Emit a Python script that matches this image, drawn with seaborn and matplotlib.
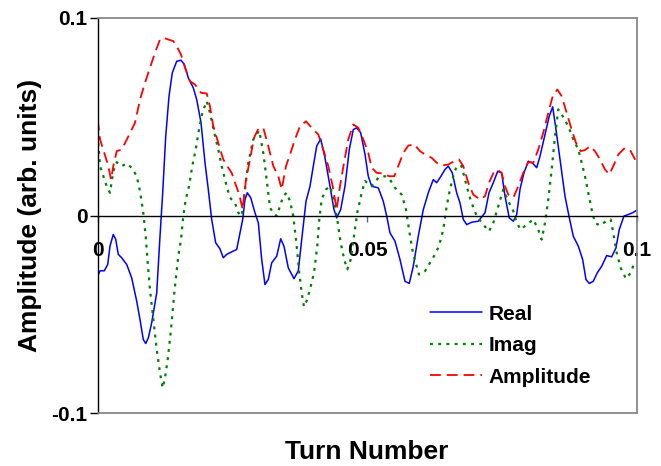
import matplotlib
matplotlib.use("Agg")
import matplotlib.pyplot as plt
import numpy as np
import pandas as pd
import seaborn as sns

# ---------------- data ----------------
real_t = [0.00000, 0.00043, 0.00122, 0.00186, 0.00228, 0.00289, 0.00334, 0.00382, 0.00445, 0.00538,
          0.00631, 0.00724, 0.00785, 0.00846, 0.00891, 0.00939, 0.01002, 0.01095, 0.01156, 0.01206,
          0.01262, 0.01323, 0.01384, 0.01466, 0.01545, 0.01607, 0.01681, 0.01774, 0.01837, 0.01917,
          0.01991, 0.02052, 0.02115, 0.02189, 0.02269, 0.02330, 0.02393, 0.02486, 0.02579, 0.02640,
          0.02690, 0.02733, 0.02776, 0.02839, 0.02918, 0.02980, 0.03043, 0.03104, 0.03165, 0.03228,
          0.03321, 0.03395, 0.03456, 0.03536, 0.03642, 0.03722, 0.03785, 0.03865, 0.03939, 0.04000,
          0.04063, 0.04137, 0.04217, 0.04310, 0.04384, 0.04434, 0.04508, 0.04588, 0.04668, 0.04742,
          0.04805, 0.04879, 0.04959, 0.05020, 0.05083, 0.05206, 0.05299, 0.05362, 0.05423, 0.05516,
          0.05609, 0.05701, 0.05781, 0.05855, 0.05948, 0.06041, 0.06134, 0.06226, 0.06289, 0.06369,
          0.06443, 0.06505, 0.06579, 0.06660, 0.06722, 0.06783, 0.06846, 0.06939, 0.07061, 0.07186,
          0.07260, 0.07340, 0.07421, 0.07495, 0.07557, 0.07636, 0.07711, 0.07774, 0.07835, 0.07909,
          0.07989, 0.08063, 0.08145, 0.08206, 0.08299, 0.08378, 0.08442, 0.08503, 0.08577, 0.08670,
          0.08744, 0.08824, 0.08917, 0.08998, 0.09059, 0.09121, 0.09195, 0.09269, 0.09351, 0.09443,
          0.09536, 0.09616, 0.09677, 0.09764, 0.09844, 0.09926, 0.10000]
real_v = [-0.0307, -0.0280, -0.0280, -0.0248, -0.0155, -0.0096, -0.0120, -0.0197, -0.0214, -0.0248,
          -0.0316, -0.0434, -0.0527, -0.0628, -0.0648, -0.0620, -0.0543, -0.0392, -0.0105, 0.0115,
          0.0400, 0.0604, 0.0722, 0.0781, 0.0786, 0.0765, 0.0697, 0.0646, 0.0587, 0.0469,
          0.0267, 0.0132, -0.0020, -0.0138, -0.0169, -0.0214, -0.0197, -0.0184, -0.0172, -0.0088,
          -0.0020, 0.0081, 0.0115, 0.0090, 0.0014, -0.0037, -0.0223, -0.0350, -0.0324, -0.0240,
          -0.0206, -0.0118, -0.0155, -0.0265, -0.0320, -0.0280, -0.0122, 0.0072, 0.0148, 0.0250,
          0.0351, 0.0388, 0.0292, 0.0148, 0.0030, -0.0012, 0.0030, 0.0148, 0.0334, 0.0435,
          0.0444, 0.0419, 0.0310, 0.0199, 0.0148, 0.0140, 0.0072, -0.0003, -0.0088, -0.0130,
          -0.0223, -0.0333, -0.0344, -0.0257, -0.0105, 0.0030, 0.0115, 0.0182, 0.0166, 0.0199,
          0.0233, 0.0250, 0.0216, 0.0115, 0.0064, -0.0020, -0.0046, -0.0034, -0.0029, 0.0014,
          0.0115, 0.0166, 0.0224, 0.0216, 0.0098, -0.0012, -0.0029, 0.0005, 0.0132, 0.0216,
          0.0275, 0.0267, 0.0242, 0.0300, 0.0410, 0.0503, 0.0550, 0.0435, 0.0284, 0.0098,
          -0.0003, -0.0105, -0.0155, -0.0223, -0.0324, -0.0344, -0.0333, -0.0290, -0.0257, -0.0203,
          -0.0209, -0.0164, -0.0071, -0.0003, 0.0005, 0.0014, 0.0027]

imag_t = [0.00011, 0.00043, 0.00104, 0.00167, 0.00228, 0.00289, 0.00353, 0.00445, 0.00538, 0.00631,
          0.00724, 0.00785, 0.00846, 0.00891, 0.00928, 0.00970, 0.01032, 0.01095, 0.01156, 0.01206,
          0.01249, 0.01299, 0.01360, 0.01421, 0.01495, 0.01545, 0.01588, 0.01633, 0.01694, 0.01755,
          0.01818, 0.01879, 0.01941, 0.02022, 0.02083, 0.02163, 0.02237, 0.02301, 0.02393, 0.02455,
          0.02547, 0.02609, 0.02672, 0.02733, 0.02794, 0.02887, 0.02998, 0.03072, 0.03135, 0.03197,
          0.03258, 0.03321, 0.03382, 0.03443, 0.03506, 0.03568, 0.03629, 0.03692, 0.03740, 0.03785,
          0.03827, 0.03889, 0.03952, 0.04013, 0.04074, 0.04111, 0.04156, 0.04236, 0.04310, 0.04371,
          0.04445, 0.04508, 0.04575, 0.04631, 0.04694, 0.04755, 0.04816, 0.04898, 0.04959, 0.05083,
          0.05206, 0.05330, 0.05423, 0.05516, 0.05640, 0.05714, 0.05776, 0.05837, 0.05900, 0.05961,
          0.06072, 0.06165, 0.06258, 0.06332, 0.06412, 0.06475, 0.06536, 0.06597, 0.06660, 0.06753,
          0.06846, 0.06926, 0.07032, 0.07154, 0.07260, 0.07340, 0.07432, 0.07525, 0.07618, 0.07711,
          0.07774, 0.07848, 0.07959, 0.08082, 0.08174, 0.08237, 0.08299, 0.08360, 0.08423, 0.08484,
          0.08546, 0.08627, 0.08731, 0.08824, 0.08917, 0.08980, 0.09041, 0.09102, 0.09165, 0.09226,
          0.09319, 0.09430, 0.09518, 0.09566, 0.09629, 0.09703, 0.09801, 0.09889, 0.09968]
imag_v = [0.0368, 0.0250, 0.0199, 0.0148, 0.0115, 0.0224, 0.0270, 0.0250, 0.0263, 0.0242,
          0.0199, 0.0123, 0.0014, -0.0105, -0.0240, -0.0375, -0.0527, -0.0678, -0.0797, -0.0873,
          -0.0822, -0.0729, -0.0577, -0.0392, -0.0206, -0.0122, -0.0003, 0.0081, 0.0148, 0.0250,
          0.0334, 0.0435, 0.0520, 0.0579, 0.0520, 0.0419, 0.0334, 0.0250, 0.0148, 0.0090,
          0.0064, 0.0014, -0.0003, 0.0132, 0.0267, 0.0385, 0.0430, 0.0317, 0.0182, 0.0039,
          0.0014, -0.0003, 0.0047, 0.0098, 0.0115, 0.0072, -0.0003, -0.0155, -0.0290, -0.0392,
          -0.0462, -0.0425, -0.0358, -0.0290, -0.0155, -0.0020, 0.0081, 0.0132, 0.0148, 0.0090,
          -0.0020, -0.0138, -0.0223, -0.0273, -0.0223, -0.0105, 0.0014, 0.0115, 0.0175, 0.0148,
          0.0191, 0.0199, 0.0182, 0.0140, 0.0106, 0.0039, -0.0071, -0.0172, -0.0240, -0.0299,
          -0.0282, -0.0240, -0.0197, -0.0155, -0.0071, 0.0047, 0.0132, 0.0199, 0.0250, 0.0250,
          0.0148, 0.0072, -0.0003, -0.0046, -0.0080, -0.0037, 0.0047, 0.0132, 0.0072, 0.0022,
          -0.0037, -0.0071, -0.0046, -0.0020, -0.0071, -0.0122, -0.0037, 0.0081, 0.0233, 0.0400,
          0.0537, 0.0503, 0.0452, 0.0385, 0.0334, 0.0267, 0.0199, 0.0115, 0.0030, -0.0037,
          -0.0051, -0.0029, -0.0020, -0.0088, -0.0189, -0.0265, -0.0320, -0.0290, -0.0231]

amp_t = [0.00000, 0.00043, 0.00122, 0.00197, 0.00247, 0.00289, 0.00353, 0.00445, 0.00568, 0.00692,
         0.00785, 0.00878, 0.00970, 0.01063, 0.01156, 0.01217, 0.01310, 0.01403, 0.01466, 0.01545,
         0.01620, 0.01712, 0.01805, 0.01917, 0.02022, 0.02083, 0.02145, 0.02237, 0.02330, 0.02423,
         0.02486, 0.02547, 0.02627, 0.02690, 0.02751, 0.02826, 0.02900, 0.02980, 0.03072, 0.03165,
         0.03258, 0.03351, 0.03414, 0.03494, 0.03568, 0.03660, 0.03753, 0.03865, 0.03970, 0.04093,
         0.04186, 0.04278, 0.04360, 0.04434, 0.04495, 0.04570, 0.04649, 0.04742, 0.04835, 0.04928,
         0.05020, 0.05083, 0.05176, 0.05299, 0.05404, 0.05503, 0.05577, 0.05670, 0.05763, 0.05874,
         0.05980, 0.06072, 0.06197, 0.06289, 0.06382, 0.06505, 0.06616, 0.06703, 0.06783, 0.06876,
         0.06968, 0.07093, 0.07186, 0.07260, 0.07358, 0.07432, 0.07495, 0.07557, 0.07618, 0.07711,
         0.07803, 0.07896, 0.07989, 0.08082, 0.08174, 0.08267, 0.08360, 0.08442, 0.08527, 0.08609,
         0.08701, 0.08794, 0.08874, 0.08961, 0.09041, 0.09134, 0.09226, 0.09319, 0.09412, 0.09492,
         0.09566, 0.09659, 0.09783, 0.09889, 0.09987]
amp_v = [0.0486, 0.0385, 0.0317, 0.0250, 0.0182, 0.0250, 0.0326, 0.0334, 0.0400, 0.0469,
         0.0587, 0.0672, 0.0748, 0.0824, 0.0891, 0.0900, 0.0891, 0.0883, 0.0857, 0.0815,
         0.0748, 0.0680, 0.0663, 0.0621, 0.0618, 0.0553, 0.0452, 0.0368, 0.0284, 0.0242,
         0.0216, 0.0166, 0.0106, 0.0030, 0.0182, 0.0284, 0.0393, 0.0439, 0.0444, 0.0351,
         0.0250, 0.0199, 0.0132, 0.0250, 0.0309, 0.0385, 0.0452, 0.0477, 0.0444, 0.0410,
         0.0334, 0.0250, 0.0148, 0.0030, 0.0148, 0.0267, 0.0385, 0.0461, 0.0444, 0.0385,
         0.0317, 0.0242, 0.0216, 0.0213, 0.0199, 0.0199, 0.0250, 0.0317, 0.0354, 0.0360,
         0.0326, 0.0309, 0.0292, 0.0267, 0.0253, 0.0258, 0.0275, 0.0284, 0.0250, 0.0166,
         0.0106, 0.0081, 0.0098, 0.0166, 0.0224, 0.0229, 0.0216, 0.0148, 0.0106, 0.0090,
         0.0148, 0.0216, 0.0270, 0.0267, 0.0334, 0.0419, 0.0520, 0.0604, 0.0638, 0.0604,
         0.0520, 0.0435, 0.0368, 0.0326, 0.0331, 0.0351, 0.0326, 0.0284, 0.0233, 0.0208,
         0.0250, 0.0309, 0.0343, 0.0326, 0.0275]

series_names = ["Real", "Imag", "Amplitude"]
x_ticks = [0, 0.05, 0.1]
x_tick_labels = ["0", "0.05", "0.1"]
y_ticks = [-0.1, 0, 0.1]
y_tick_labels = ["-0.1", "0", "0.1"]
x_title = "Turn Number"
y_title = "Amplitude (arb. units)"

# ---------------- styling ----------------
sns.set_theme(style="white")
plt.rcParams["font.family"] = ["Liberation Sans", "DejaVu Sans"]
plt.rcParams["font.weight"] = "bold"
plt.rcParams["axes.labelweight"] = "bold"
plt.rcParams["text.color"] = "black"
plt.rcParams["axes.labelcolor"] = "black"
plt.rcParams["xtick.color"] = "black"
plt.rcParams["ytick.color"] = "black"

fig = plt.figure(figsize=(6.61, 4.66), dpi=100)
ax = fig.add_axes([0.1478, 0.1137, 0.8154, 0.8477])

colors = {"Real": "#0000FF", "Imag": "#008000", "Amplitude": "#FF0000"}
widths = {"Real": 1.1, "Imag": 1.6, "Amplitude": 1.3}
styles = {"Real": "-", "Imag": (0, (1.3, 2.4)), "Amplitude": (0, (6.0, 3.3))}

data = {
    "Real": (real_t, real_v),
    "Imag": (imag_t, imag_v),
    "Amplitude": (amp_t, amp_v),
}

for name in series_names:
    t, v = data[name]
    df = pd.DataFrame({"turn": t, "value": v})
    sns.lineplot(data=df, x="turn", y="value", ax=ax, color=colors[name],
                 linewidth=widths[name], linestyle=styles[name], label=name,
                 estimator=None, sort=False)

ax.set_xlim(0, 0.1)
ax.set_ylim(-0.1, 0.1)

# spines / frame
ax.spines["bottom"].set_position(("data", 0))
ax.spines["bottom"].set_color("black")
ax.spines["bottom"].set_linewidth(1.0)
ax.spines["left"].set_color("black")
ax.spines["left"].set_linewidth(1.0)
for s in ["top", "right"]:
    ax.spines[s].set_color("#888888")
    ax.spines[s].set_linewidth(1.3)
ax.plot([0, 1], [0, 0], transform=ax.transAxes, color="#888888", lw=1.3,
        clip_on=False, zorder=3)
ax.grid(False)

ax.set_xticks(x_ticks)
ax.set_xticklabels(x_tick_labels)
ax.set_yticks(y_ticks)
ax.set_yticklabels(y_tick_labels)
ax.tick_params(axis="x", direction="out", length=4.3, width=1, color="#666666",
               labelcolor="black", pad=14, labelsize=15, bottom=True)
ax.tick_params(axis="y", direction="out", length=5.5, width=1, color="black",
               labelcolor="black", pad=2, labelsize=15, left=True)
for lbl in ax.get_xticklabels() + ax.get_yticklabels():
    lbl.set_fontweight("bold")

ax.set_xlabel(x_title, fontsize=19, fontweight="bold", color="black")
ax.xaxis.set_label_coords(0.5, -0.0987)
ax.xaxis.label.set_va("center")
ax.set_ylabel(y_title, fontsize=19, fontweight="bold", color="black")
ax.yaxis.set_label_coords(-0.103, 0.5)

leg = ax.legend(loc="upper left", bbox_to_anchor=(0.6165, 0.274), frameon=False,
                prop={"weight": "bold", "size": 15}, handlelength=2.5,
                handletextpad=0.3, labelspacing=0.6, borderpad=0, borderaxespad=0)
for txt in leg.get_texts():
    txt.set_color("black")

fig.savefig("out.png", dpi=100)
